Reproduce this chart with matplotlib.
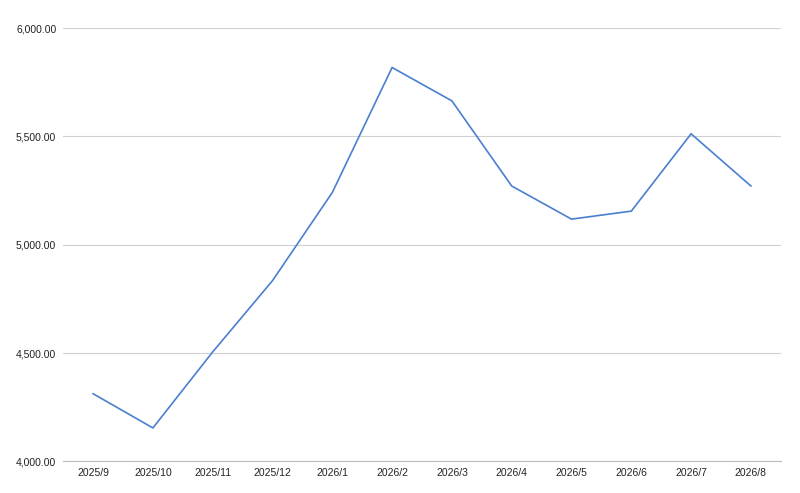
import matplotlib
matplotlib.use("Agg")
from matplotlib import pyplot as plt
from matplotlib.ticker import FuncFormatter

MONTHS = ["2025/9", "2025/10", "2025/11", "2025/12", "2026/1", "2026/2",
          "2026/3", "2026/4", "2026/5", "2026/6", "2026/7", "2026/8"]
VALUES = [4312, 4154, 4505, 4834, 5241, 5818, 5664, 5271, 5118, 5155, 5512, 5271]
Y_TICKS = [4000, 4500, 5000, 5500, 6000]

plt.rcParams['font.family'] = ['Liberation Sans', 'DejaVu Sans']

fig = plt.figure(figsize=(8, 4.93), dpi=100)
ax = fig.add_axes([0.079, 0.0643, 0.897, 0.8787])

x = list(range(len(MONTHS)))
ax.plot(x, VALUES, color='#4a7fd0', linewidth=1.2, solid_joinstyle='miter', zorder=3)

ax.set_xlim(-0.5, len(MONTHS) - 0.5)
ax.set_ylim(4000, 6000)
ax.set_xticks(x)
ax.set_xticklabels(MONTHS)
ax.set_yticks(Y_TICKS)
ax.yaxis.set_major_formatter(FuncFormatter(lambda v, _: f"{v:,.2f}"))

ax.grid(axis='y', color='#d0d0d0', linewidth=0.8)
ax.set_axisbelow(True)
for side in ('top', 'right', 'left'):
    ax.spines[side].set_visible(False)
ax.spines['bottom'].set_color('#bbbbbb')
ax.spines['bottom'].set_linewidth(0.8)
ax.tick_params(axis='both', length=0, labelsize=7.5, colors='#222222')
ax.tick_params(axis='x', pad=5)
ax.tick_params(axis='y', pad=5)

fig.savefig("out.png", dpi=100, facecolor='white')
